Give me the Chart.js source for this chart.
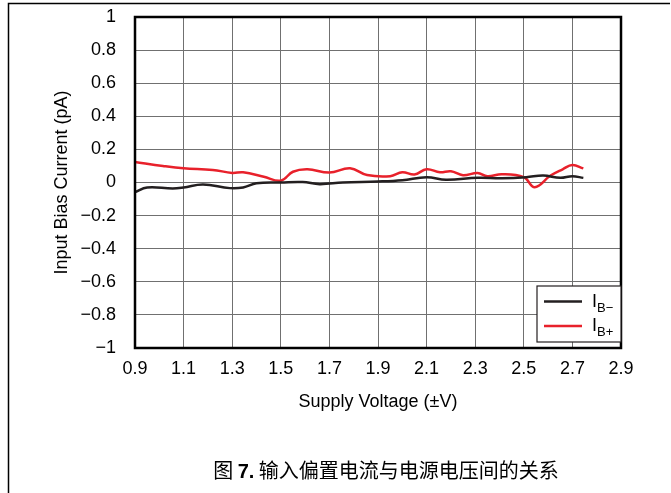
<!DOCTYPE html>
<html>
<head>
<meta charset="utf-8">
<script src="https://cdn.jsdelivr.net/npm/chart.js@4.4.1/dist/chart.umd.min.js"></script>
<style>
  html, body { margin: 0; padding: 0; background: #fff; }
  #wrap { position: relative; width: 671px; height: 493px; }
</style>
</head>
<body>
<div id="wrap"><canvas id="biasChart"></canvas></div>
<script>
// Input bias current vs supply voltage
const ibMinusV = [0.9, 0.95, 1.055, 1.1, 1.18, 1.29, 1.345, 1.4, 1.5, 1.59, 1.66, 1.755, 1.9, 2.0, 2.1, 2.18, 2.31, 2.41, 2.51, 2.58, 2.65, 2.7, 2.745];
const ibMinus  = [-0.058, -0.03, -0.036, -0.03, -0.012, -0.034, -0.03, -0.005, 0, 0.003, -0.01, 0, 0.006, 0.014, 0.032, 0.017, 0.028, 0.026, 0.032, 0.042, 0.028, 0.038, 0.028];

const ibPlusV = [0.9, 1.015, 1.1, 1.22, 1.3, 1.345, 1.43, 1.5, 1.55, 1.61, 1.7, 1.785, 1.855, 1.95, 2.0, 2.05, 2.1, 2.155, 2.2, 2.25, 2.31, 2.35, 2.41, 2.5, 2.545, 2.61, 2.66, 2.7, 2.745];
const ibPlus  = [0.124, 0.1, 0.086, 0.076, 0.058, 0.062, 0.035, 0.011, 0.065, 0.08, 0.06, 0.086, 0.045, 0.038, 0.062, 0.048, 0.08, 0.062, 0.068, 0.044, 0.058, 0.038, 0.05, 0.032, -0.028, 0.042, 0.08, 0.106, 0.085];

const xTicks = [0.9, 1.1, 1.3, 1.5, 1.7, 1.9, 2.1, 2.3, 2.5, 2.7, 2.9];
const yTicks = [-1, -0.8, -0.6, -0.4, -0.2, 0, 0.2, 0.4, 0.6, 0.8, 1];

const seriesNames = ['B\u2212', 'B+'];
const captionParts = ['图 ', '7.', ' 输入偏置电流与电源电压间的关系'];

const FONT = '"Liberation Sans", Arial, Helvetica, sans-serif';
const CJK = '"Noto Sans CJK SC", "Liberation Sans", sans-serif';

function toPoints(xs, ys) {
  return xs.map((x, i) => ({ x: x, y: ys[i] }));
}

function fmt(v) {
  const s = Math.abs(v) < 1e-9 ? '0' : String(Math.round(Math.abs(v) * 10) / 10);
  return v < -1e-9 ? '\u2212' + s : s;
}

// frame, plot border, legend and caption
const decor = {
  id: 'decor',
  beforeDraw(chart) {
    const ctx = chart.ctx;
    ctx.save();
    ctx.fillStyle = '#fff';
    ctx.fillRect(0, 0, chart.width, chart.height);
    ctx.strokeStyle = '#000';
    ctx.lineWidth = 1.5;
    ctx.beginPath();
    ctx.moveTo(8.5, chart.height);
    ctx.lineTo(8.5, 3.5);
    ctx.lineTo(670, 3.5);
    ctx.stroke();
    ctx.restore();
  },
  afterDraw(chart) {
    const ctx = chart.ctx;
    const a = chart.chartArea;
    ctx.save();

    // plot border
    ctx.strokeStyle = '#000';
    ctx.lineWidth = 2.5;
    ctx.strokeRect(a.left, a.top, a.right - a.left, a.bottom - a.top);

    // legend box
    const bx = a.right - 84, by = a.bottom - 62, bw = 84, bh = 56;
    ctx.fillStyle = '#fff';
    ctx.fillRect(bx, by, bw, bh);
    ctx.lineWidth = 1.2;
    ctx.strokeStyle = '#231f20';
    ctx.strokeRect(bx, by, bw, bh);

    chart.data.datasets.forEach((ds, i) => {
      const ly = by + 15.5 + i * 24.5;
      ctx.strokeStyle = ds.borderColor;
      ctx.lineWidth = 2.5;
      ctx.beginPath();
      ctx.moveTo(bx + 7, ly);
      ctx.lineTo(bx + 45, ly);
      ctx.stroke();
      ctx.fillStyle = '#000';
      ctx.textBaseline = 'alphabetic';
      ctx.textAlign = 'left';
      ctx.font = '18px ' + FONT;
      ctx.fillText('I', bx + 55, ly + 5);
      ctx.font = '13px ' + FONT;
      ctx.fillText(seriesNames[i], bx + 60, ly + 10);
    });

    // caption
    const fonts = ['20px ' + CJK, 'bold 20px ' + FONT, '20px ' + CJK];
    let total = 0;
    const widths = captionParts.map((t, i) => {
      ctx.font = fonts[i];
      const w = ctx.measureText(t).width;
      total += w;
      return w;
    });
    let cx = 386 - total / 2;
    ctx.fillStyle = '#000';
    ctx.textBaseline = 'alphabetic';
    ctx.textAlign = 'left';
    captionParts.forEach((t, i) => {
      ctx.font = fonts[i];
      ctx.fillText(t, cx, 478);
      cx += widths[i];
    });
    ctx.restore();
  }
};

new Chart(document.getElementById('biasChart'), {
  type: 'line',
  data: {
    datasets: [{
      label: 'IB-',
      data: toPoints(ibMinusV, ibMinus),
      borderColor: '#231f20',
      borderWidth: 2.5,
      pointRadius: 0,
      tension: 0.4,
      fill: false
    }, {
      label: 'IB+',
      data: toPoints(ibPlusV, ibPlus),
      borderColor: '#e8212b',
      borderWidth: 2.5,
      pointRadius: 0,
      tension: 0.4,
      fill: false
    }]
  },
  options: {
    responsive: true,
    maintainAspectRatio: false,
    animation: false,
    layout: { padding: { top: 17, right: 50, bottom: 83, left: 0 } },
    plugins: {
      legend: { display: false },
      tooltip: { enabled: false }
    },
    scales: {
      x: {
        type: 'linear',
        min: 0.9,
        max: 2.9,
        afterBuildTicks: (s) => { s.ticks = xTicks.map(v => ({ value: v })); },
        afterFit: (s) => {
          s.height = 62;
          s.paddingLeft = 0;
          s.paddingRight = 0;
        },
        grid: { color: '#707070', lineWidth: 1, drawTicks: false },
        border: { display: false },
        ticks: {
          padding: 10,
          color: '#000',
          font: { family: FONT, size: 18 },
          maxRotation: 0,
          autoSkip: false,
          callback: (v) => Number(v).toFixed(1)
        },
        title: {
          display: true,
          text: 'Supply Voltage (\u00b1V)',
          color: '#000',
          font: { family: FONT, size: 18 },
          padding: { top: 0, bottom: -3 }
        }
      },
      y: {
        min: -1,
        max: 1,
        afterBuildTicks: (s) => { s.ticks = yTicks.map(v => ({ value: v })); },
        afterFit: (s) => {
          s.width = 135;
          s.paddingTop = 0;
          s.paddingBottom = 0;
        },
        grid: { color: '#707070', lineWidth: 1, drawTicks: false },
        border: { display: false },
        ticks: {
          padding: 19,
          color: '#000',
          font: { family: FONT, size: 18 },
          autoSkip: false,
          callback: (v) => fmt(v)
        },
        title: {
          display: true,
          text: 'Input Bias Current (pA)',
          color: '#000',
          font: { family: FONT, size: 18 },
          padding: { top: 51, bottom: 0 }
        }
      }
    }
  },
  plugins: [decor]
});
</script>
</body>
</html>
